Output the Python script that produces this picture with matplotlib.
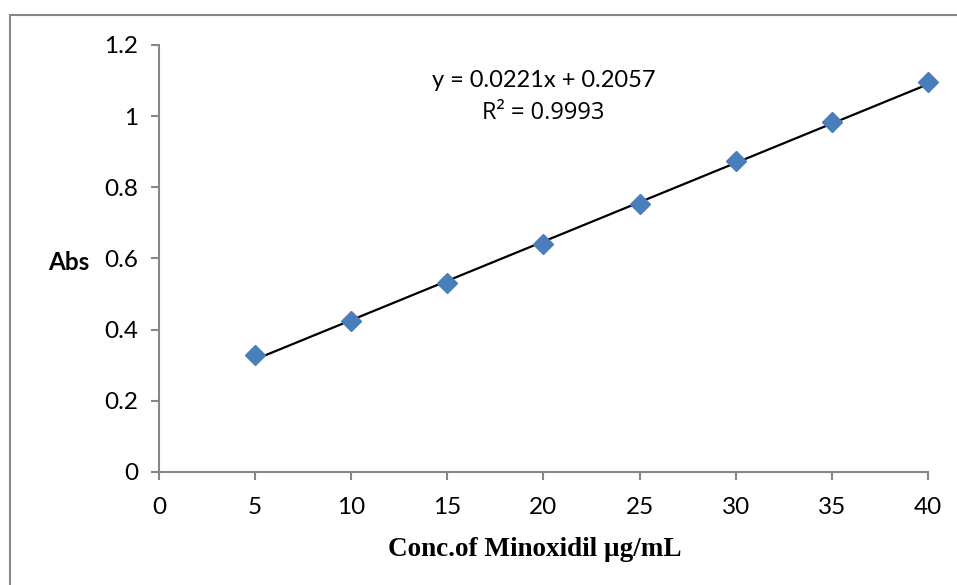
import matplotlib.pyplot as plt
from matplotlib.patches import Rectangle
import numpy as np

conc = [5, 10, 15, 20, 25, 30, 35, 40]
absorbance = [0.33, 0.425, 0.531, 0.641, 0.753, 0.873, 0.984, 1.097]
slope = 0.0221
intercept = 0.2057
r2 = 0.9993

x_ticks = [0, 5, 10, 15, 20, 25, 30, 35, 40]
y_ticks = [0, 0.2, 0.4, 0.6, 0.8, 1, 1.2]
y_tick_labels = ["0", "0.2", "0.4", "0.6", "0.8", "1", "1.2"]

plt.rcParams['font.family'] = ['Lato', 'DejaVu Sans']

fig = plt.figure(figsize=(9.57, 5.85), dpi=100)
ax = fig.add_axes([0.1661, 0.1932, 0.8036, 0.7299])

# chart area border (cropped on right/bottom)
fig.patches.append(Rectangle((10/957, -0.1), 1.2, 1 - 15/585 + 0.1,
                             transform=fig.transFigure, fill=False,
                             edgecolor="#878787", linewidth=1.5))

xs = np.array([conc[0], conc[-1]])
ax.plot(xs, slope*xs + intercept, color="black", linewidth=1.6, zorder=2)
ax.plot(conc, absorbance, linestyle="none", marker="D", markersize=10.5,
        color="#4A7EBB", zorder=3, clip_on=False)

ax.set_xlim(0, 40)
ax.set_ylim(0, 1.2)
ax.set_xticks(x_ticks)
ax.set_yticks(y_ticks, y_tick_labels)

for s in ["top", "right"]:
    ax.spines[s].set_visible(False)
for s in ["left", "bottom"]:
    ax.spines[s].set_color("#878787")
    ax.spines[s].set_linewidth(1.5)
    ax.spines[s].set_zorder(1)

ax.tick_params(axis="both", direction="out", length=6, width=1.5,
               color="#878787", labelsize=17.5, labelcolor="black")
ax.tick_params(axis="y", pad=9)
ax.tick_params(axis="x", pad=12)

ax.text(20, 1.10, f"y = {slope}x + {intercept}", ha="center", va="center", fontsize=17)
ax.text(20, 1.009, f"R² = {r2}", ha="center", va="center", fontsize=17,
        family=["Open Sans", "DejaVu Sans"])

fig.text(48/957, 1 - 262/585, "Abs", ha="left", va="center",
         fontsize=17.5, fontweight="bold")
fig.text(535/957, 1 - 550/585, "Conc.of Minoxidil µg/mL", ha="center", va="center",
         fontsize=19.5, fontweight="bold", family="Liberation Serif")

fig.savefig("out.png", dpi=100)
